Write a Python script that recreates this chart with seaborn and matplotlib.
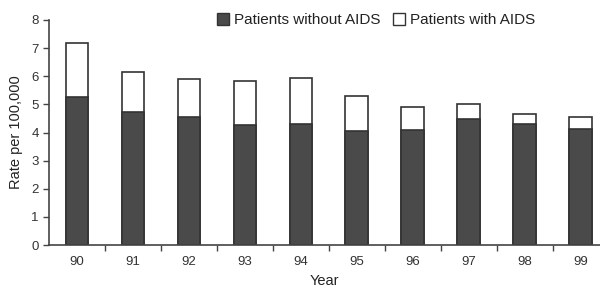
import numpy as np
import pandas as pd
import seaborn as sns
import matplotlib.pyplot as plt
from matplotlib.patches import Patch

# values
years = ['90', '91', '92', '93', '94', '95', '96', '97', '98', '99']
without_aids = [5.28, 4.72, 4.54, 4.26, 4.29, 4.05, 4.09, 4.49, 4.31, 4.14]
total = [7.18, 6.15, 5.91, 5.84, 5.95, 5.29, 4.89, 5.01, 4.65, 4.54]
with_aids = [t - w for t, w in zip(total, without_aids)]

df = pd.DataFrame({'Year': years, 'without': without_aids,
                   'with': with_aids, 'total': total})

sns.set_style('white')
plt.rcParams['font.family'] = ['Liberation Sans', 'DejaVu Sans']

dark = '#4a4a4a'
edge = '#333333'

fig = plt.figure(figsize=(6, 2.92), dpi=100)
ax = fig.add_axes([49 / 600, 47 / 292, 1 - 49 / 600, 225 / 292])

# stacked bars: total (white) behind, without AIDS (dark) in front
sns.barplot(data=df, x='Year', y='total', color='white', edgecolor=edge,
            linewidth=1.2, width=0.41, ax=ax, saturation=1)
sns.barplot(data=df, x='Year', y='without', color=dark, edgecolor=edge,
            linewidth=1.2, width=0.41, ax=ax, saturation=1)

ax.set_ylim(0, 8)
ax.set_xlim(-0.5, 9.34)
ax.set_yticks(range(0, 9))
ax.set_xlabel('Year', fontsize=10.5, labelpad=4, color='#222222')
ax.set_ylabel('Rate per 100,000', fontsize=10.5, labelpad=6, color='#222222')
ax.tick_params(axis='y', labelsize=9.5, length=4, width=1, color='#444444',
               left=True, labelcolor='#333333')
ax.tick_params(axis='x', which='major', labelsize=9.5, length=0, pad=8,
               labelcolor='#333333')
ax.set_xticks(np.arange(0.5, 9.5, 1), minor=True)
ax.tick_params(axis='x', which='minor', length=4, width=1, color='#444444', bottom=True)

sns.despine(ax=ax)
for s in ['left', 'bottom']:
    ax.spines[s].set_color('#444444')
    ax.spines[s].set_linewidth(1.2)

handles = [Patch(facecolor=dark, edgecolor=edge, label='Patients without AIDS'),
           Patch(facecolor='white', edgecolor=edge, label='Patients with AIDS')]
fig.legend(handles=handles, ncol=2, frameon=False, fontsize=11,
           loc='center', bbox_to_anchor=(376 / 600, 1 - 20 / 292),
           handlelength=0.8, handleheight=0.8, handletextpad=0.3,
           columnspacing=0.8, borderpad=0, labelcolor='#222222')

fig.savefig('out.png', dpi=100)
